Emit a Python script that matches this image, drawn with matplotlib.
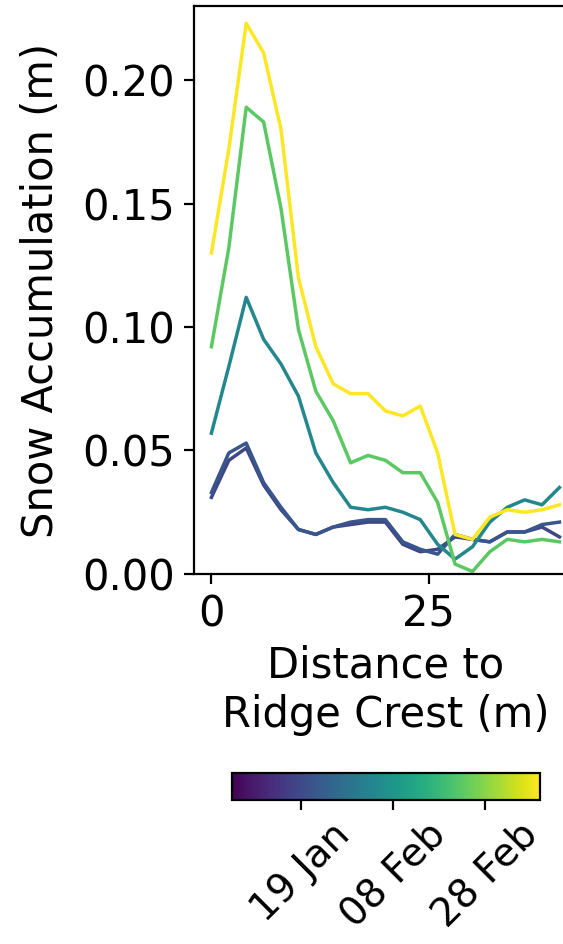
import datetime as dt

import matplotlib
matplotlib.use("Agg")
import matplotlib.pyplot as plt
import matplotlib.dates as mdates
from matplotlib.colors import Normalize
from matplotlib.cm import ScalarMappable

plt.rcParams.update({
    "font.size":        30,
    "axes.linewidth":   1.6,
    "xtick.major.size": 7,
    "ytick.major.size": 7,
    "xtick.major.width": 1.6,
    "ytick.major.width": 1.6,
    "xtick.major.pad":  7,
    "ytick.major.pad":  7,
})

# distance along the transect (m), one sample every 2 m
DIST = [0, 2, 4, 6, 8, 10, 12, 14, 16, 18, 20, 22, 24, 26, 28, 30, 32, 34, 36, 38, 40]

# survey dates, one profile each
SURVEY_DATES = [dt.date(2022, 1, 18), dt.date(2022, 1, 22), dt.date(2022, 2, 4),
                dt.date(2022, 2, 23), dt.date(2022, 3, 12)]

# accumulation relative to the first survey (m)
ACC_0118 = [0.031, 0.046, 0.051, 0.036, 0.026, 0.018, 0.016, 0.019, 0.020, 0.021, 0.021,
            0.012, 0.009, 0.010, 0.015, 0.014, 0.013, 0.017, 0.017, 0.019, 0.015]
ACC_0122 = [0.033, 0.049, 0.053, 0.037, 0.027, 0.018, 0.016, 0.019, 0.021, 0.022, 0.022,
            0.013, 0.010, 0.008, 0.016, 0.014, 0.013, 0.017, 0.017, 0.020, 0.021]
ACC_0204 = [0.057, 0.084, 0.112, 0.095, 0.085, 0.072, 0.049, 0.037, 0.027, 0.026, 0.027,
            0.025, 0.022, 0.012, 0.006, 0.011, 0.021, 0.027, 0.030, 0.028, 0.035]
ACC_0223 = [0.092, 0.132, 0.189, 0.183, 0.148, 0.099, 0.074, 0.062, 0.045, 0.048, 0.046,
            0.041, 0.041, 0.029, 0.004, 0.001, 0.009, 0.014, 0.013, 0.014, 0.013]
ACC_0312 = [0.130, 0.172, 0.223, 0.211, 0.180, 0.120, 0.092, 0.077, 0.073, 0.073, 0.066,
            0.064, 0.068, 0.049, 0.016, 0.014, 0.023, 0.026, 0.025, 0.026, 0.028]
PROFILES = [ACC_0118, ACC_0122, ACC_0204, ACC_0223, ACC_0312]

# colour scale runs from the reference survey to the last one
CBAR_START = dt.date(2022, 1, 4)
CBAR_END = dt.date(2022, 3, 12)
CBAR_TICKS = [dt.date(2022, 1, 19), dt.date(2022, 2, 8), dt.date(2022, 2, 28)]


def main():
    fig = plt.figure(figsize=(5.63, 9.44), dpi=100)
    ax = fig.add_axes([0.3446, 0.392, 0.680, 0.6017])

    norm = Normalize(mdates.date2num(CBAR_START), mdates.date2num(CBAR_END))
    cmap = plt.get_cmap("viridis")

    for d, acc in zip(SURVEY_DATES, PROFILES):
        ax.plot(DIST, acc, color=cmap(norm(mdates.date2num(d))), lw=2.5)

    ax.set_xlim(-2, 42)
    ax.set_ylim(0, 0.23)
    ax.set_xticks([0, 25])
    ax.set_yticks([0, 0.05, 0.10, 0.15, 0.20])
    ax.set_yticklabels([f"{v:.2f}" for v in [0, 0.05, 0.10, 0.15, 0.20]])

    ax.set_ylabel("Snow Accumulation (m)")
    ax.yaxis.set_label_coords(-0.345, 0.5)
    ax.set_xlabel("Distance to\nRidge Crest (m)")
    ax.xaxis.set_label_coords(0.5, -0.125)

    cax = fig.add_axes([0.412, 0.1525, 0.547, 0.0286])
    sm = ScalarMappable(norm=norm, cmap=cmap)
    cbar = fig.colorbar(sm, cax=cax, orientation="horizontal")
    cbar.set_ticks([mdates.date2num(d) for d in CBAR_TICKS])
    cbar.set_ticklabels([d.strftime("%d %b") for d in CBAR_TICKS])
    cbar.outline.set_linewidth(1.6)
    cax.tick_params(labelsize=28, pad=4)
    plt.setp(cax.get_xticklabels(), rotation=45)

    fig.savefig("out.png", dpi=100)
    plt.close(fig)


if __name__ == "__main__":
    main()
